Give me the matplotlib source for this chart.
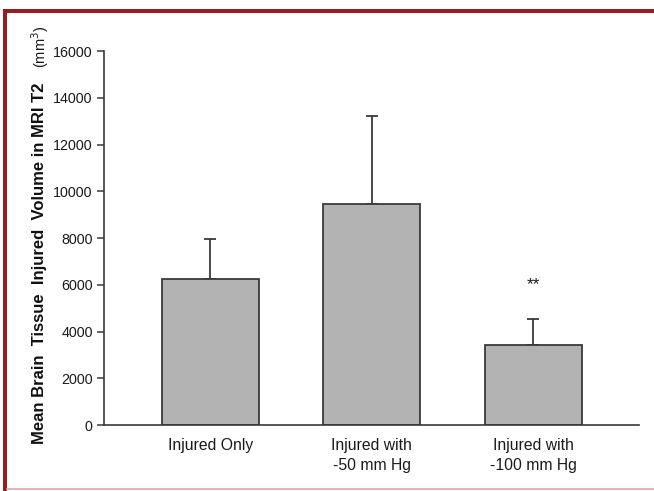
import matplotlib
matplotlib.use("Agg")
import matplotlib.pyplot as plt
from matplotlib.patches import Rectangle
from matplotlib.lines import Line2D

plt.rcParams["font.family"] = ["Liberation Sans", "DejaVu Sans"]

# Data
groups = ["Injured Only", "Injured with\n-50 mm Hg", "Injured with\n-100 mm Hg"]
mean_volume = [6250, 9450, 3420]
sd_volume = [1700, 3750, 1130]
significance = ["", "", "**"]
y_ticks = [0, 2000, 4000, 6000, 8000, 10000, 12000, 14000, 16000]

fig = plt.figure(figsize=(6.54, 4.91), dpi=100)
ax = fig.add_axes([0.159, 0.1344, 0.818, 0.7617])

edge = "#3a3a3a"
x = list(range(len(groups)))
ax.bar(x, mean_volume, width=0.6, color="#b3b3b3", edgecolor=edge, linewidth=1.3, zorder=2)
ax.errorbar(x, mean_volume, yerr=[[0] * len(x), sd_volume], fmt="none",
            ecolor=edge, elinewidth=1.3, capsize=4.3, capthick=1.3, zorder=1)

for xi, m, s, lab in zip(x, mean_volume, sd_volume, significance):
    if lab:
        ax.text(xi, m + s + 1450, lab, ha="center", va="center", fontsize=12.5, color="#1a1a1a")

ax.set_xlim(-0.659, 2.654)
ax.set_ylim(0, 16000)
ax.set_yticks(y_ticks)
ax.set_yticklabels([str(t) for t in y_ticks], fontsize=10.3, color="#1a1a1a")
ax.set_xticks(x)
ax.set_xticklabels(groups, fontsize=11.3, color="#1a1a1a", linespacing=1.45)
ax.tick_params(axis="x", length=0, pad=9)
ax.tick_params(axis="y", length=5, width=1.1, color=edge, pad=3)
for side in ("top", "right"):
    ax.spines[side].set_visible(False)
for side in ("left", "bottom"):
    ax.spines[side].set_color(edge)
    ax.spines[side].set_linewidth(1.2)

# Y-axis title: bold description plus unit
fig.text(0.061, (491 - 263) / 491, "Mean Brain  Tissue  Injured  Volume in MRI T2",
         rotation=90, ha="center", va="center", fontsize=12, fontweight="bold", color="#111111")
fig.text(0.061, (491 - 47) / 491, "(mm$^3$)", rotation=90, ha="center", va="center",
         fontsize=10.5, color="#1a1a1a")

# Frame lines around the figure
fig.add_artist(Rectangle((3 / 654, 0), 4 / 654, (491 - 9) / 491, transform=fig.transFigure,
                         facecolor="#9b1b22", edgecolor="none"))
fig.add_artist(Rectangle((3 / 654, (491 - 13) / 491), 1 - 3 / 654, 4 / 491, transform=fig.transFigure,
                         facecolor="#9b1b22", edgecolor="none"))
fig.add_artist(Line2D([7 / 654, 1], [2.5 / 491, 2.5 / 491], transform=fig.transFigure,
                      color="#e6a3a6", linewidth=1.2))

fig.savefig("out.png", dpi=100)
